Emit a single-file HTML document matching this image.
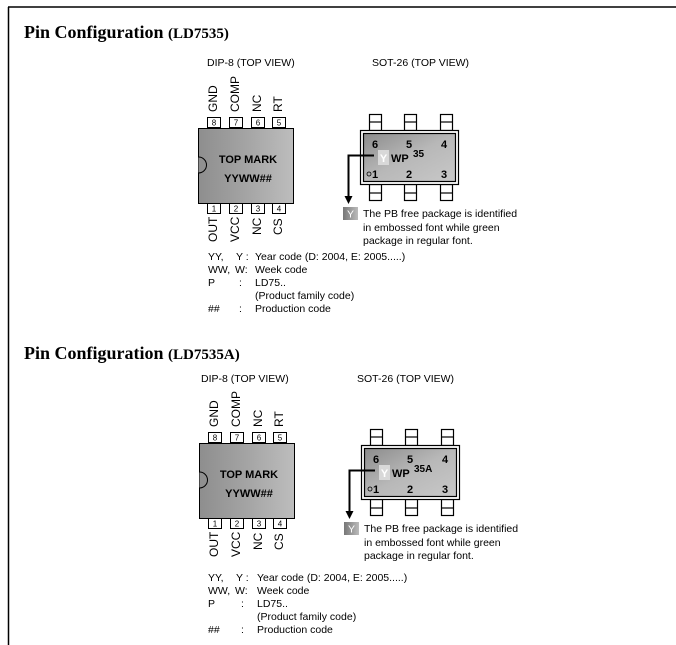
<!DOCTYPE html>
<html><head><meta charset="utf-8"><style>
html,body{margin:0;padding:0;background:#fff;}
svg{display:block;}
.t{font-family:"Liberation Sans",sans-serif;font-size:10.5px;fill:#000;}
.r{font-family:"Liberation Sans",sans-serif;font-size:12px;fill:#000;}
.b{font-family:"Liberation Sans",sans-serif;font-weight:bold;fill:#000;}
.h{font-family:"Liberation Serif",serif;font-weight:bold;fill:#000;}
.pn{font-family:"Liberation Sans",sans-serif;font-size:8px;fill:#000;}
</style></head><body>
<svg width="676" height="645" viewBox="0 0 676 645" xmlns="http://www.w3.org/2000/svg">
<defs>
<linearGradient id="dg" x1="0" y1="0" x2="1" y2="0">
<stop offset="0" stop-color="#8e8e8e"/><stop offset="0.5" stop-color="#a4a4a4"/><stop offset="1" stop-color="#bdbdbd"/></linearGradient>
<linearGradient id="sg" x1="0" y1="0" x2="1" y2="1">
<stop offset="0" stop-color="#8c8c8c"/><stop offset="0.5" stop-color="#b8b8b8"/><stop offset="1" stop-color="#c8c8c8"/></linearGradient>
<linearGradient id="yg" x1="0" y1="0" x2="1" y2="0">
<stop offset="0" stop-color="#777"/><stop offset="1" stop-color="#bbb"/></linearGradient>
<g id="pkg">
<g fill="#fff" stroke="#000" stroke-width="1">
<rect x="207.5" y="117.5" width="13" height="10"/><rect x="229.5" y="117.5" width="13" height="10"/>
<rect x="251.5" y="117.5" width="13" height="10"/><rect x="272.5" y="117.5" width="13" height="10"/>
<rect x="207.5" y="203.5" width="13" height="10"/><rect x="229.5" y="203.5" width="13" height="10"/>
<rect x="251.5" y="203.5" width="13" height="10"/><rect x="272.5" y="203.5" width="13" height="10"/>
</g>
<text class="pn" x="214" y="125.5" text-anchor="middle">8</text><text class="pn" x="236" y="125.5" text-anchor="middle">7</text>
<text class="pn" x="258" y="125.5" text-anchor="middle">6</text><text class="pn" x="279" y="125.5" text-anchor="middle">5</text>
<text class="pn" x="214" y="211.5" text-anchor="middle">1</text><text class="pn" x="236" y="211.5" text-anchor="middle">2</text>
<text class="pn" x="258" y="211.5" text-anchor="middle">3</text><text class="pn" x="279" y="211.5" text-anchor="middle">4</text>
<rect x="198.5" y="128.5" width="95" height="75" fill="url(#dg)" stroke="#000"/>
<path d="M198.5 157 A8 8 0 0 1 198.5 173" fill="#909090" stroke="#000"/>
<text class="b" x="248" y="163" font-size="11" text-anchor="middle">TOP MARK</text>
<text class="b" x="248" y="182" font-size="11" text-anchor="middle">YYWW##</text>
<g class="r">
<text transform="translate(217,112) rotate(-90)">GND</text>
<text transform="translate(239,112) rotate(-90)">COMP</text>
<text transform="translate(261,112) rotate(-90)">NC</text>
<text transform="translate(282,112) rotate(-90)">RT</text>
<text transform="translate(217,242) rotate(-90)">OUT</text>
<text transform="translate(239,242) rotate(-90)">VCC</text>
<text transform="translate(261,235) rotate(-90)">NC</text>
<text transform="translate(282,235) rotate(-90)">CS</text>
</g>
<g fill="#fff" stroke="#000" stroke-width="1.2">
<rect x="369.5" y="114.5" width="12" height="16"/><line x1="369.5" y1="122" x2="381.5" y2="122"/>
<rect x="404.5" y="114.5" width="12" height="16"/><line x1="404.5" y1="122" x2="416.5" y2="122"/>
<rect x="440.5" y="114.5" width="12" height="16"/><line x1="440.5" y1="122" x2="452.5" y2="122"/>
<rect x="369.5" y="184.5" width="12" height="16"/><line x1="369.5" y1="193" x2="381.5" y2="193"/>
<rect x="404.5" y="184.5" width="12" height="16"/><line x1="404.5" y1="193" x2="416.5" y2="193"/>
<rect x="440.5" y="184.5" width="12" height="16"/><line x1="440.5" y1="193" x2="452.5" y2="193"/>
</g>
<rect x="360.5" y="130.5" width="98" height="54" fill="#fff" stroke="#000" stroke-width="1.2"/>
<rect x="363.5" y="133.5" width="92" height="48" fill="url(#sg)" stroke="#000" stroke-width="1.2"/>
<text class="b" x="372" y="148" font-size="11">6</text>
<text class="b" x="406" y="148" font-size="11">5</text>
<text class="b" x="441" y="148" font-size="11">4</text>
<rect x="378" y="150" width="11" height="15" fill="#d8d8d8"/>
<text class="b" x="383.5" y="162" font-size="11" text-anchor="middle" style="fill:#fff">Y</text>
<text class="b" x="391" y="162" font-size="11">WP</text>
<circle cx="369" cy="174" r="2" fill="none" stroke="#000" stroke-width="0.8"/>
<text class="b" x="372" y="178" font-size="11">1</text>
<text class="b" x="406" y="178" font-size="11">2</text>
<text class="b" x="441" y="178" font-size="11">3</text>
<polyline points="374,155.5 348.5,155.5 348.5,197" fill="none" stroke="#000" stroke-width="2"/>
<path d="M344.5 196 L352.5 196 L348.5 204 Z" fill="#000"/>
<rect x="343" y="207" width="15" height="13" fill="url(#yg)"/>
<text class="t" x="350.5" y="217.5" text-anchor="middle" style="fill:#fff">Y</text>
<text class="t" x="363" y="217">The PB free package is identified</text>
<text class="t" x="363" y="231">in embossed font while green</text>
<text class="t" x="363" y="244">package in regular font.</text>
</g>
</defs>
<line x1="8" y1="7" x2="676" y2="7" stroke="#000" stroke-width="1.5"/>
<line x1="8.5" y1="7" x2="8.5" y2="645" stroke="#000" stroke-width="1.5"/>

<text class="h" x="24" y="38" font-size="18">Pin Configuration <tspan font-size="15">(LD7535)</tspan></text>
<text class="t" x="207" y="66">DIP-8 (TOP VIEW)</text>
<text class="t" x="372" y="66">SOT-26 (TOP VIEW)</text>
<use href="#pkg"/>
<text class="b" x="413" y="157" font-size="10">35</text>
<g class="t">
<text x="208" y="260">YY,</text><text x="236" y="260">Y :</text><text x="255" y="260">Year code (D: 2004, E: 2005.....)</text>
<text x="208" y="273">WW,</text><text x="235" y="273">W:</text><text x="255" y="273">Week code</text>
<text x="208" y="286">P</text><text x="239" y="286">:</text><text x="255" y="286">LD75..</text>
<text x="255" y="299">(Product family code)</text>
<text x="208" y="312">##</text><text x="239" y="312">:</text><text x="255" y="312">Production code</text>
</g>

<text class="h" x="24" y="359" font-size="18">Pin Configuration <tspan font-size="15">(LD7535A)</tspan></text>
<text class="t" x="201" y="382">DIP-8 (TOP VIEW)</text>
<text class="t" x="357" y="382">SOT-26 (TOP VIEW)</text>
<g transform="translate(1,315)"><use href="#pkg"/>
<text class="b" x="413" y="157" font-size="10">35A</text></g>
<g class="t">
<text x="208" y="581">YY,</text><text x="236" y="581">Y :</text><text x="257" y="581">Year code (D: 2004, E: 2005.....)</text>
<text x="208" y="594">WW,</text><text x="235" y="594">W:</text><text x="257" y="594">Week code</text>
<text x="208" y="607">P</text><text x="241" y="607">:</text><text x="257" y="607">LD75..</text>
<text x="257" y="620">(Product family code)</text>
<text x="208" y="633">##</text><text x="241" y="633">:</text><text x="257" y="633">Production code</text>
</g>
</svg>
</body></html>
